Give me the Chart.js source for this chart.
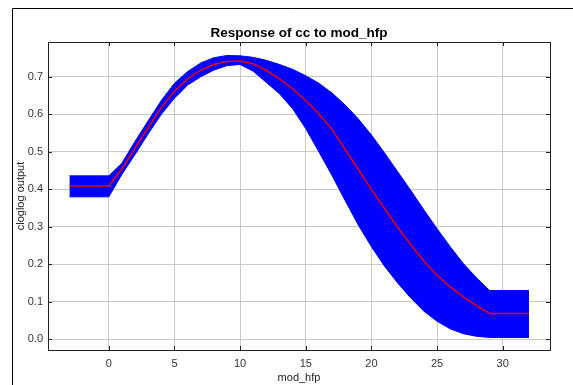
<!DOCTYPE html>
<html>
<head>
<meta charset="utf-8">
<script src="https://cdn.jsdelivr.net/npm/chart.js@4/dist/chart.umd.min.js"></script>
<style>
  html, body { margin: 0; padding: 0; background: #fff; }
  #wrap { width: 573px; height: 385px; position: relative; }
</style>
</head>
<body>
<div id="wrap"><canvas id="responseChart"></canvas></div>
<script>
// mod_hfp values
const xVals = [-3, 0, 1, 2, 3, 4, 5, 6, 7, 8, 9, 10, 11, 12, 13, 14, 15, 16, 17, 18, 19, 20, 21, 22, 23, 24, 25, 26, 27, 28, 29, 32]
// mean cloglog output (red line)
const meanVals = [0.409, 0.409, 0.455, 0.51, 0.565, 0.618, 0.662, 0.695, 0.718, 0.733, 0.741, 0.742, 0.735, 0.717, 0.695, 0.668, 0.637, 0.601, 0.56, 0.507, 0.453, 0.4, 0.349, 0.299, 0.252, 0.209, 0.171, 0.14, 0.113, 0.09, 0.069, 0.069]
// mean +/- one std dev (blue band)
const upperVals = [0.436, 0.436, 0.47, 0.528, 0.583, 0.637, 0.683, 0.714, 0.737, 0.751, 0.757, 0.756, 0.752, 0.744, 0.733, 0.72, 0.703, 0.683, 0.657, 0.625, 0.588, 0.545, 0.497, 0.447, 0.397, 0.345, 0.295, 0.247, 0.202, 0.164, 0.13, 0.13]
const lowerVals = [0.38, 0.38, 0.44, 0.493, 0.548, 0.6, 0.643, 0.678, 0.7, 0.718, 0.73, 0.733, 0.715, 0.685, 0.655, 0.615, 0.562, 0.5, 0.437, 0.37, 0.305, 0.247, 0.195, 0.15, 0.11, 0.075, 0.048, 0.028, 0.015, 0.008, 0.005, 0.005]

const xTicks = [0, 5, 10, 15, 20, 25, 30]
const yTicks = [0, 0.1, 0.2, 0.3, 0.4, 0.5, 0.6, 0.7]

const pts = arr => xVals.map((x, i) => ({ x: x, y: arr[i] }))

const tickFont = { family: 'Liberation Sans, Arial, sans-serif', size: 11 }

// plot frame, inward tick marks and the outer panel lines
const framePlugin = {
  id: 'frame',
  afterDraw(chart) {
    const { ctx, chartArea: a, scales } = chart
    ctx.save()
    ctx.strokeStyle = '#000'
    ctx.lineWidth = 1
    ctx.beginPath()
    ctx.moveTo(12.5, 385); ctx.lineTo(12.5, 8.5); ctx.lineTo(573, 8.5)
    ctx.stroke()
    ctx.strokeStyle = '#222'
    ctx.strokeRect(Math.round(a.left) + 0.5, Math.round(a.top) + 0.5, Math.round(a.right - a.left), Math.round(a.bottom - a.top))
    ctx.beginPath()
    xTicks.forEach(v => {
      const px = Math.round(scales.x.getPixelForValue(v)) + 0.5
      ctx.moveTo(px, a.bottom); ctx.lineTo(px, a.bottom - 4)
      ctx.moveTo(px, a.top); ctx.lineTo(px, a.top + 4)
    })
    yTicks.forEach(v => {
      const py = Math.round(scales.y.getPixelForValue(v)) + 0.5
      ctx.moveTo(a.left, py); ctx.lineTo(a.left + 4, py)
      ctx.moveTo(a.right, py); ctx.lineTo(a.right - 4, py)
    })
    ctx.stroke()
    ctx.restore()
  }
}

new Chart(document.getElementById('responseChart'), {
  type: 'line',
  data: {
    datasets: [{
      label: 'upper',
      data: pts(upperVals),
      borderColor: '#0000ff',
      borderWidth: 1,
      backgroundColor: '#0000ff',
      fill: '+1',
      pointRadius: 0,
      order: 2
    }, {
      label: 'lower',
      data: pts(lowerVals),
      borderColor: '#0000ff',
      borderWidth: 1,
      fill: false,
      pointRadius: 0,
      order: 2
    }, {
      label: 'mean',
      data: pts(meanVals),
      borderColor: '#ee0000',
      borderWidth: 1.5,
      fill: false,
      pointRadius: 0,
      order: 1
    }]
  },
  options: {
    responsive: true,
    maintainAspectRatio: false,
    animation: false,
    devicePixelRatio: 1,
    layout: { padding: { left: 0, right: 23, top: 0, bottom: 0 } },
    plugins: {
      legend: { display: false },
      tooltip: { enabled: false },
      title: {
        display: true,
        text: 'Response of cc to mod_hfp',
        fullSize: false,
        color: '#000',
        font: { family: 'Liberation Sans, Arial, sans-serif', size: 13.5, weight: 'bold' },
        padding: { top: 25, bottom: 0.8 }
      }
    },
    scales: {
      x: {
        type: 'linear',
        min: -4.63,
        max: 33.6,
        afterBuildTicks: s => { s.ticks = xTicks.map(v => ({ value: v })) },
        afterFit: s => { s.height = 35 },
        ticks: { color: '#333', font: tickFont, padding: 7, maxRotation: 0 },
        grid: { color: '#c8c8c8', drawTicks: false },
        border: { display: false },
        title: { display: true, text: 'mod_hfp', color: '#222', font: tickFont, padding: { top: 0, bottom: 0 } }
      },
      y: {
        min: -0.0285,
        max: 0.793,
        afterBuildTicks: s => { s.ticks = yTicks.map(v => ({ value: v })) },
        afterFit: s => { s.width = 48 },
        ticks: { color: '#333', font: tickFont, padding: 5, callback: v => v.toFixed(1) },
        grid: { color: '#c8c8c8', drawTicks: false },
        border: { display: false },
        title: { display: true, text: 'cloglog output', color: '#222', font: tickFont, padding: { top: 14, bottom: 0 } }
      }
    }
  },
  plugins: [framePlugin]
})
</script>
</body>
</html>
